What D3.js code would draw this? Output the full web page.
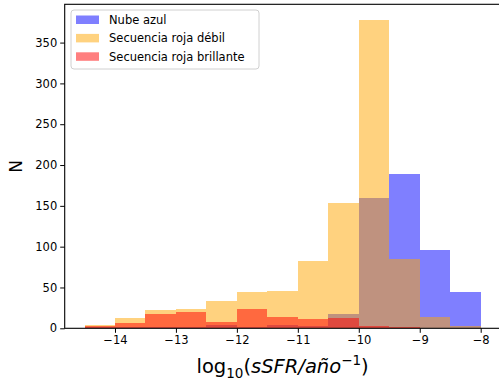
<!DOCTYPE html>
<html>
<head>
<meta charset="utf-8">
<script src="https://cdn.jsdelivr.net/npm/d3@7"></script>
<style>
  html, body { margin: 0; padding: 0; background: #fff; }
  svg { display: block; font-family: "DejaVu Sans", sans-serif; }
</style>
</head>
<body>
<div id="chart"></div>
<script>
// Bin edges of the histogram (log10 sSFR)
const binEdges = [-14.5, -14, -13.5, -13, -12.5, -12, -11.5, -11, -10.5, -10, -9.5, -9, -8.5, -8];

// Counts per bin
const blueCounts   = [1, 1, 2, 2, 4, 1, 4, 3, 18, 160, 189, 96, 44];
const orangeCounts = [4, 13, 22, 24, 33, 44, 46, 82, 154, 378, 85, 14, 3];
const redCounts    = [3, 6, 18, 20, 8, 24, 14, 11, 13, 3, 2, 0, 0];

const seriesNames  = ['Nube azul', 'Secuencia roja débil', 'Secuencia roja brillante'];
const seriesColors = ['#0000ff', '#ffa500', '#ff0000'];

const xTicks = [-14, -13, -12, -11, -10, -9, -8];
const yTicks = [0, 50, 100, 150, 200, 250, 300, 350];

const width = 499, height = 383;
const plot = { left: 64.7, right: 500.5, top: 4.3, bottom: 328.3 };

const svg = d3.select('#chart').append('svg')
    .attr('width', width)
    .attr('height', height);

// matplotlib-like autoscale margins
const xMin = d3.min(binEdges), xMax = d3.max(binEdges);
const xPad = (xMax - xMin) * 0.05;
const x = d3.scaleLinear()
    .domain([xMin - xPad, xMax + xPad])
    .range([plot.left, plot.right]);

const allMax = d3.max([...blueCounts, ...orangeCounts, ...redCounts]);
const y = d3.scaleLinear()
    .domain([0, allMax * 1.05])
    .range([plot.bottom, plot.top]);

const series = [blueCounts, orangeCounts, redCounts];

const barsGroup = svg.append('g').attr('class', 'bars');
series.forEach((counts, i) => {
    const bins = counts.map((c, j) => ({ x0: binEdges[j], x1: binEdges[j + 1], n: c }));
    barsGroup.append('g')
        .selectAll('rect')
        .data(bins.filter(d => d.n > 0))
        .enter().append('rect')
        .attr('x', d => x(d.x0))
        .attr('width', d => x(d.x1) - x(d.x0))
        .attr('y', d => y(d.n))
        .attr('height', d => y(0) - y(d.n))
        .attr('fill', seriesColors[i])
        .attr('fill-opacity', 0.5)
        .attr('shape-rendering', 'crispEdges');
});

// Axes
const xAxis = d3.axisBottom(x)
    .tickValues(xTicks)
    .tickSize(4.5)
    .tickPadding(3)
    .tickFormat(d3.format('d'));

const yAxis = d3.axisLeft(y)
    .tickValues(yTicks)
    .tickSize(4.5)
    .tickPadding(3)
    .tickFormat(d3.format('d'));

const gx = svg.append('g')
    .attr('transform', `translate(0,${plot.bottom})`)
    .call(xAxis);
const gy = svg.append('g')
    .attr('transform', `translate(${plot.left},0)`)
    .call(yAxis);

[gx, gy].forEach(g => {
    g.select('.domain').remove();
    g.selectAll('.tick line').attr('stroke', '#000').attr('stroke-width', 1);
    g.selectAll('.tick text')
        .attr('fill', '#000')
        .style('font-size', '11.5px')
        .style('font-family', '"DejaVu Sans", sans-serif');
});

// Spines
svg.append('rect')
    .attr('x', plot.left)
    .attr('y', plot.top)
    .attr('width', plot.right - plot.left)
    .attr('height', plot.bottom - plot.top)
    .attr('fill', 'none')
    .attr('stroke', '#000')
    .attr('stroke-width', 1.1);

// Axis labels
svg.append('text')
    .attr('transform', `translate(22,${(plot.top + plot.bottom) / 2}) rotate(-90)`)
    .attr('text-anchor', 'middle')
    .style('font-size', '17px')
    .text('N');

const xl = svg.append('text')
    .attr('x', (plot.left + plot.right) / 2)
    .attr('y', 373)
    .attr('text-anchor', 'middle')
    .style('font-size', '19.5px');
xl.append('tspan').text('log');
xl.append('tspan').attr('dy', 4.5).style('font-size', '13.5px').text('10');
xl.append('tspan').attr('dy', -4.5).text('(');
xl.append('tspan').style('font-style', 'italic').text('sSFR/año');
xl.append('tspan').attr('dy', -8).style('font-size', '13.5px').text('−1');
xl.append('tspan').attr('dy', 8).text(')');

// Legend
const legend = svg.append('g').attr('transform', 'translate(71,10)');
legend.append('rect')
    .attr('width', 188)
    .attr('height', 59)
    .attr('rx', 3)
    .attr('fill', '#fff')
    .attr('fill-opacity', 0.8)
    .attr('stroke', '#d0d0d0')
    .attr('stroke-width', 1);

seriesNames.forEach((name, i) => {
    const row = legend.append('g').attr('transform', `translate(5,${5.5 + i * 18.4})`);
    row.append('rect')
        .attr('width', 23)
        .attr('height', 8.5)
        .attr('fill', seriesColors[i])
        .attr('fill-opacity', 0.5);
    row.append('text')
        .attr('x', 33)
        .attr('y', 8.5)
        .style('font-size', '11.5px')
        .text(name);
});
</script>
</body>
</html>
